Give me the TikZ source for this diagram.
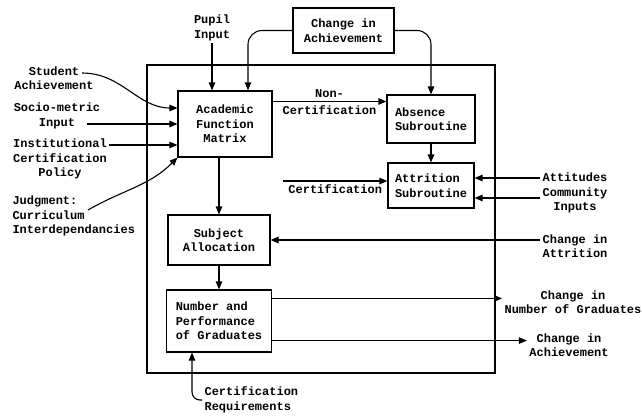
\documentclass[tikz,border=0pt]{standalone}
\usepackage{fontspec}
\setmonofont{Liberation Mono}
\usetikzlibrary{arrows.meta,positioning,calc}

\begin{document}
\begin{tikzpicture}[->,>={Triangle[length=8pt,width=6.5pt]},
                    x=1pt,y=1pt,line width=1.1pt,on grid,
                    font=\ttfamily\bfseries\fontsize{12}{14.5}\selectfont]
    \tikzset{
      block/.style={
        draw,
        inner sep=2pt,
        align=center
      },
      lblock/.style={
        block,
        align=left
      },
      caption/.style={
        inner sep=2pt,
        align=center
      }
    }
    \useasboundingbox (0,0) rectangle (642,-416);

    % Model boundary
    \node [draw, minimum width=348, minimum height=308] (model) at (321,-219) {};

    % Blocks
    \node [block, minimum width=101, minimum height=45] (chgach) at (343.5,-30.5) {Change in\\Achievement};
    \node [block, minimum width=94, minimum height=66]  (afm)     at (225,-124)    {Academic\\Function\\Matrix};
    \node [lblock, minimum width=88, minimum height=48] (absence) at (431,-119)    {Absence\\Subroutine};
    \node [lblock, minimum width=86, minimum height=45] (attr)    [below=66.5pt of absence] {Attrition\\Subroutine};
    \node [block, minimum width=102, minimum height=50] (sa)      at (219,-240)    {Subject\\Allocation};
    \node [lblock, minimum width=105, minimum height=62] (np)     [below=81pt of sa] {Number and\\Performance\\of Graduates};

    % Outside labels
    \node [caption] (pupil)  at (212,-28)  {Pupil\\Input};
    \node [caption] (stach)  at (54,-78)   {Student\\Achievement};
    \node [caption] (socio)  at (57,-116)  {Socio-metric\\Input};
    \node [caption] (inst)   at (60,-159)  {Institutional\\Certification\\Policy};
    \node [caption, align=left, anchor=west] (judg) at (10,-216) {Judgment:\\Curriculum\\Interdependancies};
    \node [caption] (att)    at (575,-193) {Attitudes\\Community\\Inputs};
    \node [caption] (chatt)  at (575,-246) {Change in\\Attrition};
    \node [caption] (chgrad) at (573,-302) {Change in\\Number of Graduates};
    \node [caption] (chach2) at (569,-345) {Change in\\Achievement};
    \node [caption, align=left, anchor=west] (creq) at (202,-400) {Certification\\Requirements};

    % Inputs to the matrix
    \draw (pupil.south) -- (pupil.south |- afm.north);
    \draw [rounded corners=14pt] (chgach.west) -| ([xshift=23pt]afm.north);
    \draw [rounded corners=14pt] (chgach.east) -| (absence.north);
    \draw ([shift={(-14pt,5pt)}]stach.east) to [out=0, in=180] ([yshift=16pt]afm.west);
    \draw ($(socio.east |- afm.west)+(-16pt,0)$) -- (afm.west);
    \draw ([yshift=-21pt]afm.west -| inst.east) -- ([yshift=-21pt]afm.west);
    \draw ([shift={(78pt,6pt)}]judg.west) to [out=30, in=225] (afm.south west);

    % Subroutines
    \draw ([yshift=-11pt]afm.north east) -- node [above] {Non-} node [below] {Certification}
          ([yshift=-11pt]afm.north east -| absence.west);
    \coordinate (certin) at (283,-181);
    \draw (certin) -- node [below] {Certification} (certin -| attr.west);
    \draw (absence.south) -- (absence.south |- attr.north);
    \draw ([yshift=15pt]att.west) -- ([yshift=15pt]att.west -| attr.east);
    \draw ([yshift=-5pt]att.west) -- ([yshift=-5pt]att.west -| attr.east);

    % Main flow
    \draw (afm.south -| sa.north) -- (sa.north);
    \draw (chatt.west |- sa.east) -- (sa.east);
    \draw (sa.south) -- (np.north);
    \draw [rounded corners=8pt] (creq.west) -| ([xshift=-27pt]np.south);

    % Outputs
    \draw ([yshift=-9pt]np.north east) -- ([yshift=-9pt]np.north east -| chgrad.west);
    \draw ([yshift=12pt]np.south east) -- ([yshift=12pt]np.south east -| chach2.west);
\end{tikzpicture}
\end{document}
